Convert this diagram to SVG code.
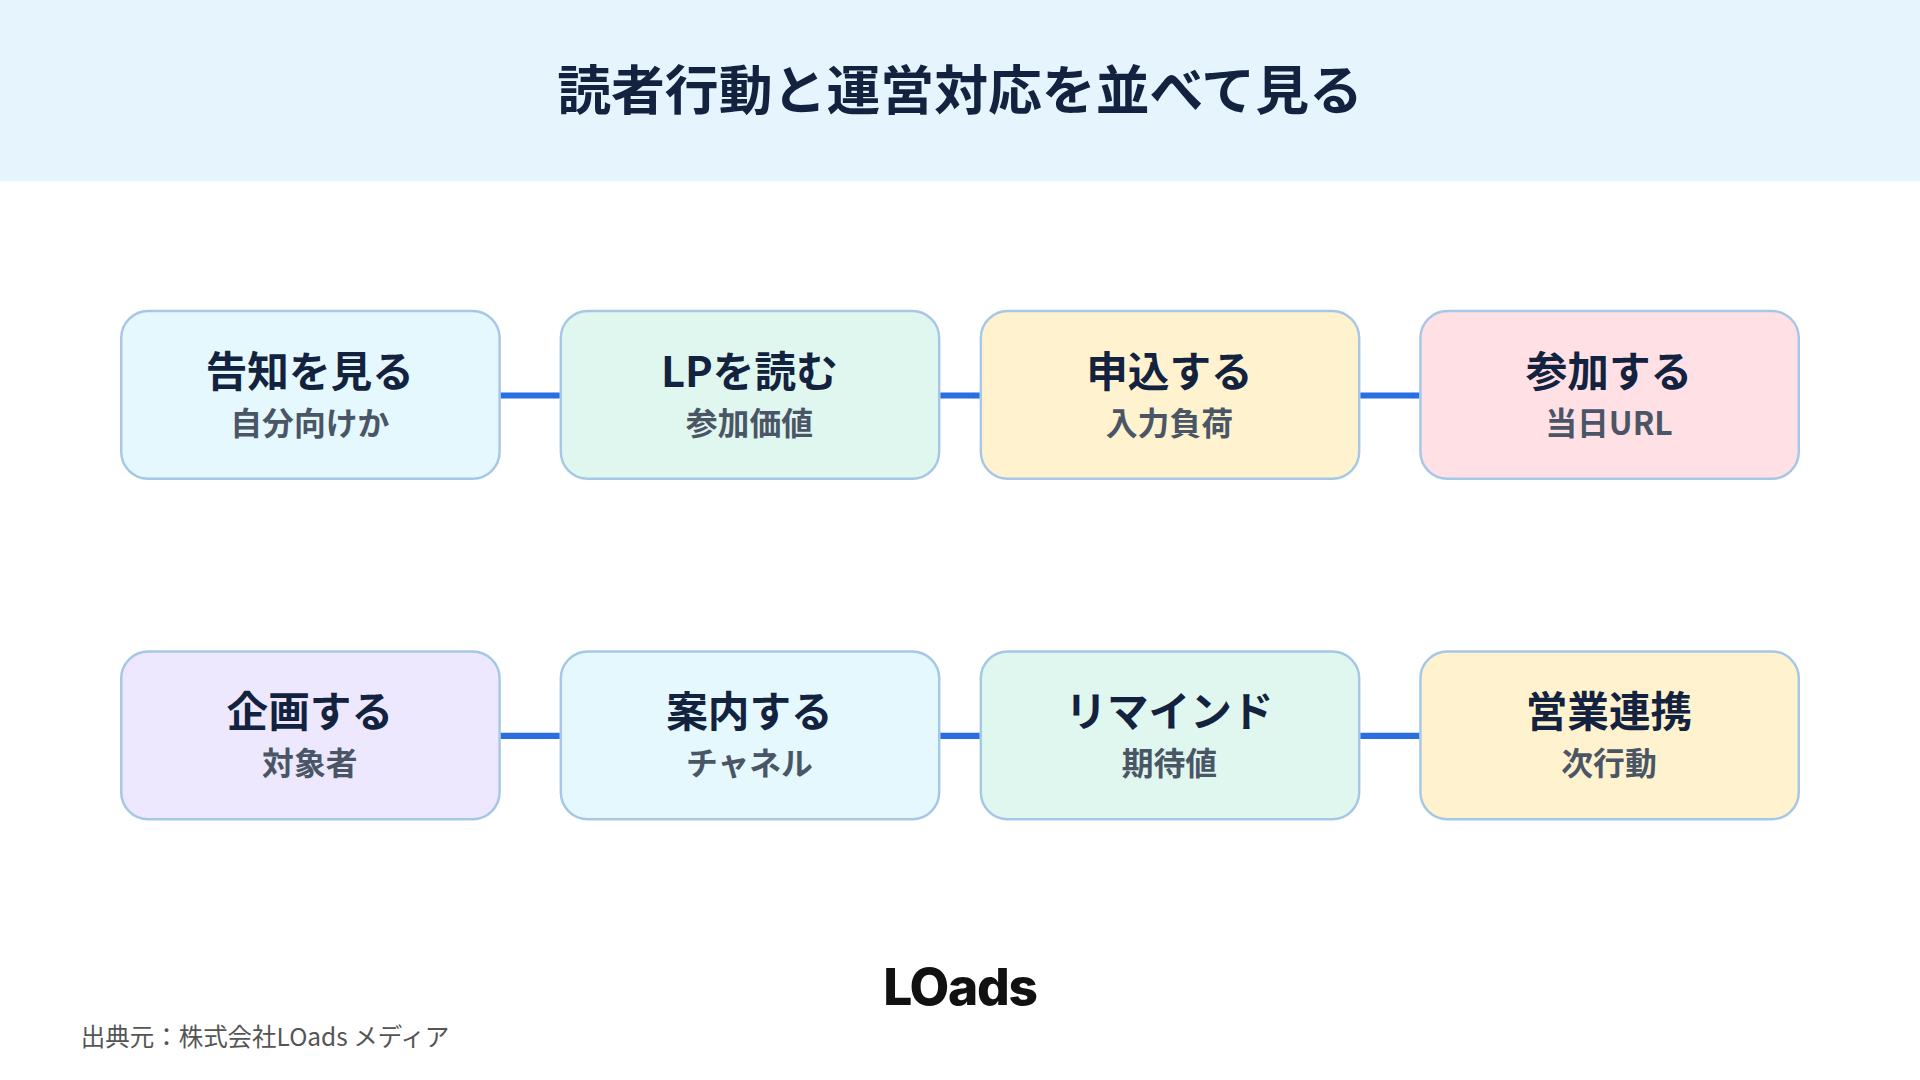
<svg xmlns="http://www.w3.org/2000/svg" width="1920" height="1080" viewBox="0 0 1920 1080">
<style>
.box{stroke:#a6c8e6;stroke-width:2}
.t{font-family:"Noto Sans CJK JP","Noto Sans",sans-serif;font-weight:700;fill:#13233f;text-anchor:middle;font-size:34px}
.s{font-family:"Noto Sans CJK JP","Noto Sans",sans-serif;font-weight:700;fill:#4a5666;text-anchor:middle;font-size:26px}
.ln{stroke:#2a6fe0;stroke-width:5}
</style>
<defs><marker id="ah" viewBox="0 0 10 10" refX="10" refY="5" markerWidth="5" markerHeight="6" markerUnits="userSpaceOnUse" orient="auto"><path d="M0,0L10,5L0,10z" fill="#2a6fe0"/></marker></defs>
<rect width="1920" height="1080" fill="#fff"/>
<g transform="scale(1.2245)">
<rect width="1568" height="148" fill="#e6f4fd"/>
<text x="784" y="90" class="t" style="font-size:44px">読者行動と運営対応を並べて見る</text>
<g id="n1"><rect class="box" x="99" y="254" width="309" height="137" rx="22" fill="#e5f8fd"/><text class="t" x="253" y="316">告知を見る</text><text class="s" x="253" y="355">自分向けか</text></g>
<g id="n2"><rect class="box" x="458" y="254" width="309" height="137" rx="22" fill="#e0f7ef"/><text class="t" x="612" y="316">LPを読む</text><text class="s" x="612" y="355">参加価値</text></g>
<g id="n3"><rect class="box" x="801" y="254" width="309" height="137" rx="22" fill="#fff2cf"/><text class="t" x="955" y="316">申込する</text><text class="s" x="955" y="355">入力負荷</text></g>
<g id="n4"><rect class="box" x="1160" y="254" width="309" height="137" rx="22" fill="#ffe1e5"/><text class="t" x="1314" y="316">参加する</text><text class="s" x="1314" y="355">当日URL</text></g>
<g id="n5"><rect class="box" x="99" y="532" width="309" height="137" rx="22" fill="#ede8fd"/><text class="t" x="253" y="594">企画する</text><text class="s" x="253" y="633">対象者</text></g>
<g id="n6"><rect class="box" x="458" y="532" width="309" height="137" rx="22" fill="#e5f8fd"/><text class="t" x="612" y="594">案内する</text><text class="s" x="612" y="633">チャネル</text></g>
<g id="n7"><rect class="box" x="801" y="532" width="309" height="137" rx="22" fill="#e0f7ef"/><text class="t" x="955" y="594">リマインド</text><text class="s" x="955" y="633">期待値</text></g>
<g id="n8"><rect class="box" x="1160" y="532" width="309" height="137" rx="22" fill="#fff2cf"/><text class="t" x="1314" y="594">営業連携</text><text class="s" x="1314" y="633">次行動</text></g>
<g id="connectors" class="ln" marker-end="url(#ah)">
<line x1="409" y1="323" x2="457" y2="323"/><line x1="768" y1="323" x2="800" y2="323"/><line x1="1111" y1="323" x2="1159" y2="323"/>
<line x1="409" y1="601" x2="457" y2="601"/><line x1="768" y1="601" x2="800" y2="601"/><line x1="1111" y1="601" x2="1159" y2="601"/>
</g>
<text x="784" y="821" style="font-family:Inter,'Noto Sans',sans-serif;font-weight:800;font-size:42px;fill:#111;text-anchor:middle;letter-spacing:-1px">LOads</text>
<text x="66" y="854" style="font-family:'Noto Sans CJK JP','Noto Sans',sans-serif;font-size:20px;fill:#555">出典元：株式会社LOads メディア</text>
</g>
</svg>
